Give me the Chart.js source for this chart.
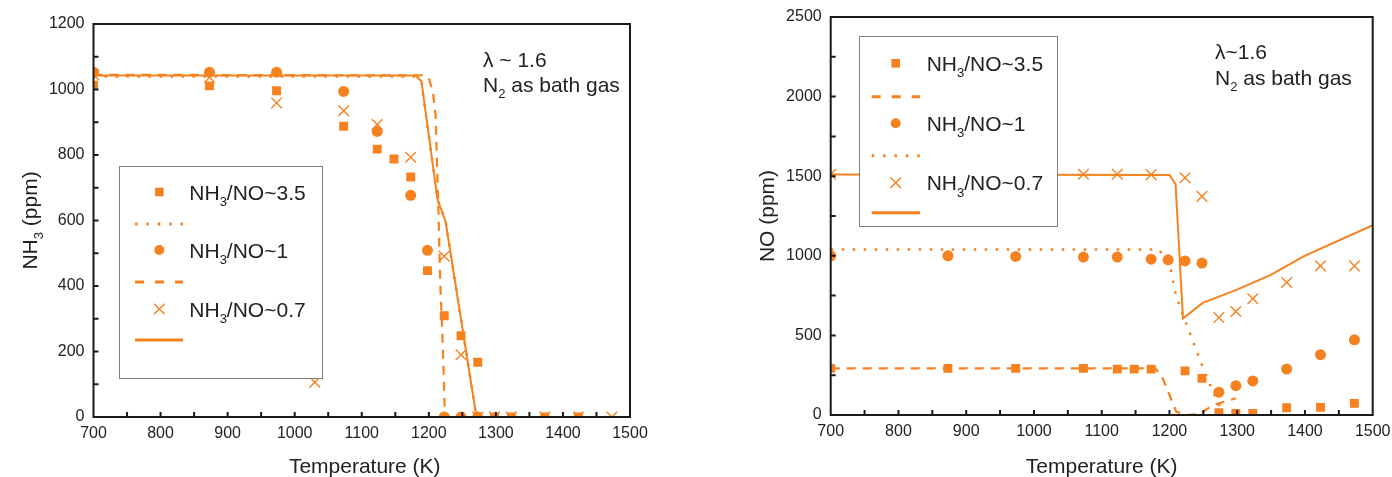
<!DOCTYPE html>
<html lang="en">
<head>
<meta charset="UTF-8">
<title>NH3 and NO vs temperature</title>
<script src="https://cdn.jsdelivr.net/npm/chart.js"></script>
<style>
  body { margin: 0; background: #fff; }
  #wrap { position: relative; width: 1392px; height: 477px; }
  canvas { position: absolute; top: 0; }
  #nh3Chart { left: 0; }
  #noChart { left: 696px; }
</style>
</head>
<body>
<div id="wrap">
  <canvas id="nh3Chart" width="696" height="477"></canvas>
  <canvas id="noChart" width="696" height="477"></canvas>
</div>
<script>
// tick labels
const tempTicks = [700, 800, 900, 1000, 1100, 1200, 1300, 1400, 1500];
const nh3Ticks = [0, 200, 400, 600, 800, 1000, 1200];
const noTicks = [0, 500, 1000, 1500, 2000, 2500];

// NH3 panel - measured points
const nh3SqT = [700, 873, 973, 1073, 1123, 1148, 1173, 1198, 1223, 1248, 1273, 1298, 1323, 1373, 1423];
const nh3SqV = [1013, 1011, 996, 888, 818, 788, 733, 447, 309, 248, 167, 0, 0, 0, 0];
const nh3CiT = [700, 873, 973, 1073, 1123, 1173, 1198, 1223, 1248, 1273];
const nh3CiV = [1053, 1053, 1053, 994, 872, 677, 509, 0, 0, 0];
const nh3XT = [700, 873, 973, 1030, 1073, 1123, 1173, 1223, 1248, 1273, 1298, 1323, 1373, 1423, 1473];
const nh3XV = [1045, 1037, 959, 106, 935, 893, 793, 491, 190, 0, 0, 0, 0, 0, 0];
// NH3 panel - model curves
const nh3DotT = [700, 1180, 1189, 1213, 1225, 1271];
const nh3DotV = [1040, 1040, 1022, 664, 597, 0];
const nh3DashT = [700, 1190, 1200, 1206, 1210, 1214, 1217, 1221, 1224];
const nh3DashV = [1045, 1043, 1033, 994, 923, 658, 414, 211, 0];
const nh3SolT = [700, 1180, 1189, 1213, 1225, 1271];
const nh3SolV = [1043, 1043, 1025, 664, 597, 0];

// NO panel - measured points
const noSqT = [700, 873, 973, 1073, 1123, 1148, 1173, 1223, 1248, 1273, 1298, 1323, 1373, 1423, 1473];
const noSqV = [293, 293, 293, 293, 288, 288, 288, 277, 230, 15, 10, 10, 46, 48, 73];
const noCiT = [700, 873, 973, 1073, 1123, 1173, 1198, 1223, 1248, 1273, 1298, 1323, 1373, 1423, 1473];
const noCiV = [1000, 1000, 996, 992, 992, 979, 975, 968, 954, 143, 184, 214, 289, 379, 472];
const noXT = [700, 873, 973, 1073, 1123, 1173, 1223, 1248, 1273, 1298, 1323, 1373, 1423, 1473];
const noXV = [1512, 1512, 1512, 1512, 1512, 1510, 1490, 1373, 612, 650, 730, 832, 937, 937];
// NO panel - model curves
const noDashT = [700, 1179, 1189, 1210, 1226, 1245, 1263, 1298];
const noDashV = [293, 293, 241, 21, 0, 5, 60, 105];
const noDotT = [700, 1184, 1200, 1210, 1232, 1245, 1263, 1280];
const noDotV = [1040, 1040, 954, 744, 493, 346, 157, 0];
const noSolT = [700, 1200, 1209, 1220, 1249, 1298, 1349, 1398, 1500];
const noSolV = [1510, 1508, 1450, 606, 704, 784, 878, 997, 1192];

const ORANGE = '#f5821f';
const INK = '#222222';
const FONT = '"Liberation Sans", Arial, sans-serif';

function pts(xs, ys) {
  return xs.map((x, i) => ({ x: x, y: ys[i] }));
}

function markers(xs, ys, style) {
  return {
    data: pts(xs, ys),
    showLine: false,
    pointStyle: style,
    pointRadius: style === 'crossRot' ? 7.5 : (style === 'rect' ? 6.3 : 5.5),
    backgroundColor: ORANGE,
    borderColor: ORANGE,
    pointBorderWidth: style === 'crossRot' ? 1.4 : 0,
    clip: 0
  };
}

function curve(xs, ys, kind) {
  let dash = [];
  let w = 2;
  if (kind === 'dash') { dash = [9, 7]; w = 2.2; }
  if (kind === 'dot') { dash = [2.5, 8.5]; w = 2.5; }
  return {
    data: pts(xs, ys),
    showLine: true,
    pointRadius: 0,
    borderColor: ORANGE,
    borderWidth: w,
    borderDash: dash,
    fill: false,
    tension: 0,
    clip: 0
  };
}

// text with subscripts: parts = [[text, isSub], ...]
function richWidth(ctx, parts, size) {
  let w = 0;
  parts.forEach(p => {
    ctx.font = (p[1] ? size * 0.62 : size) + 'px ' + FONT;
    w += ctx.measureText(p[0]).width;
  });
  return w;
}

function drawRich(ctx, parts, x, y, size) {
  let cx = x;
  parts.forEach(p => {
    ctx.font = (p[1] ? size * 0.62 : size) + 'px ' + FONT;
    ctx.fillText(p[0], cx, p[1] ? y + size * 0.3 : y);
    cx += ctx.measureText(p[0]).width;
  });
}

function legendMarker(ctx, style, cx, cy) {
  ctx.fillStyle = ORANGE;
  ctx.strokeStyle = ORANGE;
  if (style === 'rect') {
    ctx.fillRect(cx - 4.3, cy - 4.3, 8.6, 8.6);
  } else if (style === 'circle') {
    ctx.beginPath();
    ctx.arc(cx, cy, 5, 0, Math.PI * 2);
    ctx.fill();
  } else {
    ctx.lineWidth = 1.4;
    ctx.setLineDash([]);
    ctx.beginPath();
    ctx.moveTo(cx - 5.3, cy - 5.3); ctx.lineTo(cx + 5.3, cy + 5.3);
    ctx.moveTo(cx + 5.3, cy - 5.3); ctx.lineTo(cx - 5.3, cy + 5.3);
    ctx.stroke();
  }
}

function legendLine(ctx, kind, x0, x1, y) {
  ctx.strokeStyle = ORANGE;
  ctx.lineWidth = 3;
  ctx.lineCap = 'butt';
  if (kind === 'dash') ctx.setLineDash([9, 11]);
  else if (kind === 'dot') ctx.setLineDash([2.5, 8.9]);
  else ctx.setLineDash([]);
  ctx.beginPath();
  ctx.moveTo(x0, y);
  ctx.lineTo(x1, y);
  ctx.stroke();
  ctx.setLineDash([]);
}

function decor(cfg) {
  return {
    id: 'decor',
    afterDraw(chart) {
      const ctx = chart.ctx;
      const a = chart.chartArea;
      const xs = chart.scales.x;
      const ys = chart.scales.y;
      ctx.save();

      // inward ticks, major and minor
      ctx.strokeStyle = '#1a1a1a';
      ctx.lineWidth = 2;
      ctx.beginPath();
      for (let v = xs.min + cfg.xMinor; v < xs.max; v += cfg.xMinor) {
        const px = xs.getPixelForValue(v);
        ctx.moveTo(px, a.bottom);
        ctx.lineTo(px, a.bottom - 5);
      }
      for (let v = ys.min + cfg.yMinor; v < ys.max; v += cfg.yMinor) {
        const py = ys.getPixelForValue(v);
        ctx.moveTo(a.left, py);
        ctx.lineTo(a.left + 5, py);
      }
      ctx.stroke();
      ctx.strokeRect(a.left, a.top, a.right - a.left, a.bottom - a.top);

      // axis titles
      ctx.fillStyle = INK;
      ctx.textBaseline = 'alphabetic';
      ctx.font = '21px ' + FONT;
      const xt = 'Temperature (K)';
      ctx.fillText(xt, (a.left + a.right) / 2 + cfg.xTitleShift - ctx.measureText(xt).width / 2, 473);

      ctx.save();
      ctx.translate(a.left - 64, (a.top + a.bottom) / 2);
      ctx.rotate(-Math.PI / 2);
      const tw = richWidth(ctx, cfg.yTitle, 21);
      drawRich(ctx, cfg.yTitle, -tw / 2, 7.5, 21);
      ctx.restore();

      // annotation
      ctx.fillStyle = INK;
      drawRich(ctx, cfg.note1, cfg.noteX, cfg.noteY1, 21);
      drawRich(ctx, [['N', false], ['2', true], [' as bath gas', false]], cfg.noteX, cfg.noteY2, 21);

      // legend box
      const L = cfg.legend;
      ctx.fillStyle = '#ffffff';
      ctx.fillRect(L.x0, L.y0, L.x1 - L.x0, L.y1 - L.y0);
      ctx.strokeStyle = '#7f7f7f';
      ctx.lineWidth = 1;
      ctx.strokeRect(L.x0 + 0.5, L.y0 + 0.5, L.x1 - L.x0, L.y1 - L.y0);
      L.rows.forEach(r => {
        if (r.marker) {
          legendMarker(ctx, r.marker, L.mx, r.y);
          ctx.fillStyle = INK;
          drawRich(ctx, [['NH', false], ['3', true], ['/NO~' + r.text, false]], L.tx, r.y + 7.5, 21);
        } else {
          legendLine(ctx, r.line, L.lx0, L.lx1, r.y);
        }
      });
      ctx.restore();
    }
  };
}

function axisFont() {
  return { family: FONT, size: 16 };
}

function plain(v) {
  return String(v);
}

function makeChart(id, datasets, yTicks, pad, yWidth, xHeight, cfg) {
  return new Chart(document.getElementById(id), {
    type: 'scatter',
    data: { datasets: datasets },
    options: {
      responsive: false,
      animation: false,
      layout: { padding: pad },
      plugins: { legend: { display: false }, tooltip: { enabled: false } },
      scales: {
        x: {
          type: 'linear',
          min: tempTicks[0],
          max: tempTicks[tempTicks.length - 1],
          grid: { display: false, drawTicks: false },
          border: { display: false },
          ticks: { stepSize: tempTicks[1] - tempTicks[0], padding: 7, color: INK, font: axisFont(), maxRotation: 0, callback: plain },
          afterFit: s => { s.height = xHeight; s.paddingLeft = 0; s.paddingRight = 0; }
        },
        y: {
          type: 'linear',
          min: yTicks[0],
          max: yTicks[yTicks.length - 1],
          grid: { display: false, drawTicks: false },
          border: { display: false },
          ticks: { stepSize: yTicks[1] - yTicks[0], padding: 9, color: INK, font: axisFont(), callback: plain },
          afterFit: s => { s.width = yWidth; s.paddingTop = 0; s.paddingBottom = 0; }
        }
      }
    },
    plugins: [decor(cfg)]
  });
}

// NH3 panel
makeChart('nh3Chart', [
  markers(nh3SqT, nh3SqV, 'rect'),
  markers(nh3CiT, nh3CiV, 'circle'),
  markers(nh3XT, nh3XV, 'crossRot'),
  curve(nh3DotT, nh3DotV, 'dot'),
  curve(nh3DashT, nh3DashV, 'dash'),
  curve(nh3SolT, nh3SolV, 'solid')
], nh3Ticks, { top: 24, right: 66, left: 0, bottom: 0 }, 93.5, 60, {
  xMinor: 50, yMinor: 100, xTitleShift: 3,
  yTitle: [['NH', false], ['3', true], [' (ppm)', false]],
  note1: [['\u03bb ~ 1.6', false]], noteX: 483, noteY1: 67, noteY2: 92,
  legend: {
    x0: 119, y0: 166, x1: 322, y1: 378, mx: 159.3, tx: 189.3, lx0: 135, lx1: 183,
    rows: [
      { marker: 'rect', text: '3.5', y: 192 },
      { line: 'dot', y: 224 },
      { marker: 'circle', text: '1', y: 250 },
      { line: 'dash', y: 282 },
      { marker: 'crossRot', text: '0.7', y: 309 },
      { line: 'solid', y: 340 }
    ]
  }
});

// NO panel
makeChart('noChart', [
  markers(noSqT, noSqV, 'rect'),
  markers(noCiT, noCiV, 'circle'),
  markers(noXT, noXV, 'crossRot'),
  curve(noDashT, noDashV, 'dash'),
  curve(noDotT, noDotV, 'dot'),
  curve(noSolT, noSolV, 'solid')
], noTicks, { top: 17, right: 19.3, left: 0, bottom: 0 }, 134.7, 62, {
  xMinor: 50, yMinor: 250, xTitleShift: 0,
  yTitle: [['NO (ppm)', false]],
  note1: [['\u03bb~1.6', false]], noteX: 519, noteY1: 59, noteY2: 85,
  legend: {
    x0: 163, y0: 36, x1: 361, y1: 226, mx: 199.7, tx: 230.7, lx0: 175.7, lx1: 224,
    rows: [
      { marker: 'rect', text: '3.5', y: 63.3 },
      { line: 'dash', y: 96.7 },
      { marker: 'circle', text: '1', y: 123.3 },
      { line: 'dot', y: 155.7 },
      { marker: 'crossRot', text: '0.7', y: 182.7 },
      { line: 'solid', y: 212.7 }
    ]
  }
});
</script>
</body>
</html>
